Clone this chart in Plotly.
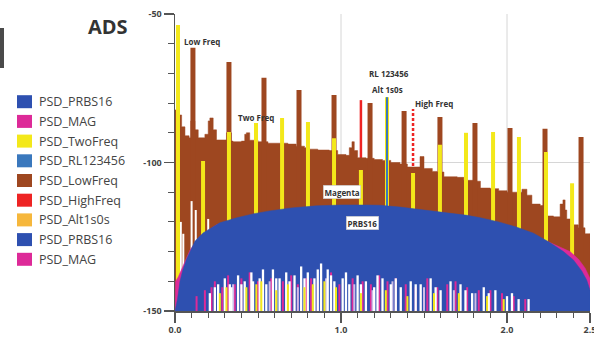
import plotly.graph_objects as go

# ---------------- data ----------------
x_range = [0.0, 2.5]
y_range = [-150, -50]
x_tick_vals = [0.0, 1.0, 2.0, 2.5]
x_tick_text = ["0.0", "1.0", "2.0", "2.5"]
y_tick_vals = [-50, -100, -150]
y_tick_text = ["-50", "-100", "-150"]

# PSD_LowFreq : noise floor (stepped) + tones
lowfreq_floor_x = [0.00, 0.02, 0.04, 0.06, 0.085, 0.095, 0.12, 0.14, 0.18, 0.20, 0.21, 0.23,
                   0.25, 0.30, 0.31, 0.34, 0.35, 0.40, 0.42, 0.43, 0.45, 0.50, 0.56, 0.62,
                   0.68, 0.73, 0.78, 0.81, 0.86, 0.93, 0.98, 1.03, 1.05, 1.066, 1.08, 1.10,
                   1.15, 1.20, 1.25, 1.30, 1.355, 1.40, 1.45, 1.476, 1.50, 1.55, 1.58, 1.62,
                   1.70, 1.74, 1.80, 1.84, 1.90, 1.95, 2.00, 2.06, 2.09, 2.12, 2.15, 2.20,
                   2.24, 2.28, 2.32, 2.337, 2.35, 2.36, 2.40, 2.43, 2.47, 2.50]
lowfreq_floor_y = [-82.3, -84.0, -88.0, -91.0, -91.7, -86.0, -89.0, -91.7, -90.5, -86.0, -85.0, -89.0,
                   -92.4, -92.4, -90.0, -92.8, -93.0, -92.8, -90.5, -90.0, -92.5, -93.0, -93.5, -93.5,
                   -93.8, -94.5, -95.0, -95.5, -95.8, -96.0, -97.3, -97.6, -95.0, -93.0, -96.0, -98.4,
                   -98.6, -99.0, -99.3, -100.0, -100.5, -101.5, -101.5, -98.0, -102.0, -103.0, -103.2, -104.8,
                   -105.0, -106.0, -106.3, -108.6, -108.8, -109.5, -110.0, -110.0, -109.0, -111.0, -114.0, -114.5,
                   -118.0, -118.3, -114.0, -112.6, -116.0, -119.0, -121.0, -122.0, -124.0, -127.0]
lowfreq_tone_x = [0.108, 0.325, 0.536, 0.747, 0.958, 1.175, 1.380, 1.596, 1.807, 2.018, 2.229, 2.446]
lowfreq_tone_y = [-61.4, -66.2, -71.5, -75.6, -77.3, -80.0, -82.7, -84.7, -86.7, -88.4, -88.6, -91.4]
# notches (nulls) of the LowFreq trace on the left
lowfreq_null_x = [0.035, 0.05, 0.10, 0.125, 0.17, 0.20]
lowfreq_null_y = [-120.0, -124.0, -113.0, -116.0, -118.0, -119.0]

# PSD_TwoFreq tones
twofreq_x = [0.018, 0.169, 0.325, 0.488, 0.645, 0.801, 0.958, 1.120, 1.277, 1.434,
             1.596, 1.753, 1.916, 2.072, 2.235, 2.392]
twofreq_y = [-53.7, -99.5, -89.7, -86.7, -85.0, -86.4, -91.8, -102.5, -78.0, -103.5,
             -94.0, -90.0, -89.7, -91.4, -96.5, -107.0]

# PSD_HighFreq tones
highfreq_x = [1.120, 1.434]
highfreq_y = [-79.0, -82.0]

# PSD_RL123456 / PSD_Alt1s0s line
rl_x = [1.277]
rl_y = [-78.0]

# PSD_PRBS16 envelope
prbs_x = [0.0, 0.015, 0.03, 0.048, 0.07, 0.09, 0.12, 0.169, 0.27, 0.373, 0.47, 0.57, 0.70,
          0.85, 1.0, 1.15, 1.235, 1.355, 1.5, 1.65, 1.76, 1.84, 1.95, 2.06, 2.16, 2.26,
          2.34, 2.40, 2.45, 2.48, 2.50]
prbs_y = [-150.0, -146.0, -140.0, -136.0, -132.5, -130.0, -126.5, -123.7, -120.3, -118.6, -117.3,
          -116.3, -115.3, -114.6, -114.3, -114.3, -114.4, -115.0, -116.0, -117.1, -117.8, -118.6,
          -120.0, -121.8, -123.8, -127.0, -130.0, -132.8, -136.5, -139.6, -143.0]

# PSD_MAG envelope (only shows at the edges of the PRBS16 dome)
mag_x = [0.0, 0.004, 0.02, 0.05, 0.09, 0.15, 0.25, 0.5, 1.0, 1.5, 2.0, 2.2, 2.3, 2.38, 2.43, 2.47, 2.50]
mag_y = [-150.0, -140.0, -138.5, -134.5, -129.5, -125.0, -121.0, -117.5, -115.5, -116.8,
         -121.5, -125.5, -128.0, -130.0, -132.5, -135.5, -139.0]

# spectral nulls showing through at the bottom of the PRBS16 trace
null_white_x = [0.21, 0.24, 0.26, 0.30, 0.33, 0.34, 0.38, 0.40, 0.42, 0.46, 0.47, 0.51, 0.53,
                0.55, 0.59, 0.61, 0.63, 0.67, 0.69, 0.72, 0.76, 0.78, 0.80, 0.84, 0.86, 0.88,
                0.92, 0.94, 0.96, 1.01, 1.03, 1.05, 1.10, 1.12, 1.15, 1.20, 1.22, 1.25, 1.30,
                1.33, 1.36, 1.42, 1.45, 1.48, 1.54, 1.57, 1.60, 1.66, 1.72, 1.75, 1.79, 1.86,
                1.89, 1.93, 2.00, 2.03, 2.07, 2.13]
null_white_y = [-144, -142, -141, -139, -141, -142, -138, -141, -140, -137, -140, -139, -136,
                -141, -136, -139, -139, -137, -140, -138, -135, -139, -137, -139, -136, -134,
                -136, -138, -140, -139, -137, -141, -138, -141, -140, -142, -138, -139, -141,
                -139, -142, -140, -141, -141, -139, -142, -143, -140, -141, -143, -144, -142,
                -144, -143, -145, -144, -146, -146]
null_mag_x = [0.13, 0.18, 0.22, 0.24, 0.285, 0.32, 0.36, 0.40, 0.45, 0.50, 0.53, 0.58, 0.65,
              0.70, 0.74, 0.79, 0.82, 0.86, 0.94, 0.99, 1.07, 1.13, 1.18, 1.23, 1.28, 1.33,
              1.39, 1.45, 1.52, 1.58, 1.64, 1.69, 1.76, 1.83, 1.90, 1.97, 2.04, 2.11]
null_mag_y = [-145, -143, -142, -140, -142, -138, -141, -139, -137, -140, -141, -139, -140,
              -138, -141, -139, -139, -140, -137, -141, -139, -140, -141, -138, -140, -139,
              -141, -142, -139, -142, -141, -140, -142, -143, -143, -144, -145, -146]
null_yel_x = [0.27, 0.31, 0.43, 0.49, 0.52, 0.61, 0.68, 0.78, 0.83, 0.90, 0.97, 1.12, 1.27,
              1.40, 1.56, 1.71, 1.88, 1.98]
null_yel_y = [-144, -142, -142, -141, -140, -143, -141, -142, -141, -140, -142, -144, -143,
              -145, -144, -144, -145, -146]
null_lav_x = [0.35, 0.57, 0.74, 0.91, 1.08, 1.19, 1.31, 1.50, 1.68, 1.81]
null_lav_y = [-141, -140, -142, -139, -141, -143, -140, -142, -143, -144]

# legend (as drawn at the left of the picture)
legend_names = ["PSD_PRBS16", "PSD_MAG", "PSD_TwoFreq", "PSD_RL123456", "PSD_LowFreq",
                "PSD_HighFreq", "PSD_Alt1s0s", "PSD_PRBS16", "PSD_MAG"]

# ---------------- style ----------------
C_PRBS = "#2e50b0"
C_MAG = "#dd2a98"
C_TWO = "#f3e81a"
C_RL = "#3a78bd"
C_LOW = "#9e4720"
C_HIGH = "#ee2424"
C_ALT = "#f6b73c"
legend_colors = [C_PRBS, C_MAG, C_TWO, C_RL, C_LOW, C_HIGH, C_ALT, C_PRBS, C_MAG]

W, H = 594, 337
ML, MR, MT, MB = 175, 4, 14, 26
PW, PH = W - ML - MR, H - MT - MB
FONT = "Open Sans"
BASE = y_range[0]


def px_x(px):
    return (px - ML) / PW


def px_y(py):
    return (H - MB - py) / PH


def spikes(xs, tops):
    X, Y = [], []
    for x, t in zip(xs, tops):
        X += [x, x, None]
        Y += [BASE, t, None]
    return X, Y


fig = go.Figure()


def add_spikes(xs, ys, color, width, name, dash=None):
    X, Y = spikes(xs, ys)
    fig.add_trace(go.Scatter(x=X, y=Y, mode="lines", name=name, showlegend=False,
                             line=dict(color=color, width=width, dash=dash),
                             hoverinfo="skip"))


def add_area(xs, ys, color, name, shape="linear"):
    fig.add_trace(go.Scatter(x=[xs[0]] + xs + [xs[-1]], y=[BASE] + ys + [BASE],
                             mode="lines", fill="toself", fillcolor=color, name=name,
                             line=dict(color=color, width=0.5, shape=shape),
                             showlegend=False, hoverinfo="skip"))


# back to front
add_spikes(highfreq_x[:1], highfreq_y[:1], C_HIGH, 2.5, "PSD_HighFreq")
add_spikes(highfreq_x[1:], highfreq_y[1:], C_HIGH, 2.5, "PSD_HighFreq", dash="3px,2px")
add_area(lowfreq_floor_x, lowfreq_floor_y, C_LOW, "PSD_LowFreq", shape="hv")
add_spikes(lowfreq_tone_x, lowfreq_tone_y, C_LOW, 5, "PSD_LowFreq")
add_spikes(lowfreq_null_x, lowfreq_null_y, "white", 2, "PSD_LowFreq")
add_spikes(twofreq_x, twofreq_y, C_TWO, 4, "PSD_TwoFreq")
add_spikes(rl_x, rl_y, C_RL, 2, "PSD_RL123456")
add_area(mag_x, mag_y, C_MAG, "PSD_MAG")
add_area(prbs_x, prbs_y, C_PRBS, "PSD_PRBS16")
add_spikes(null_mag_x, null_mag_y, C_MAG, 2, "PSD_MAG")
add_spikes(null_lav_x, null_lav_y, "#cdbde8", 2, "nulls")
add_spikes(null_white_x, null_white_y, "white", 2.3, "nulls")
add_spikes(null_yel_x, null_yel_y, C_TWO, 2, "PSD_TwoFreq")

ann_font = dict(family=FONT, size=8, color="#333333", weight="bold")
labels = [
    ("Low Freq", 0.163, -59.4, False),
    ("Two Freq", 0.488, -85.0, False),
    ("RL 123456", 1.289, -69.9, False),
    ("Alt 1s0s", 1.283, -75.3, False),
    ("High Freq", 1.56, -80.0, False),
    ("Magenta", 1.006, -110.0, True),
    ("PRBS16", 1.13, -120.4, True),
]
annotations = []
for text, ax, ay, boxed in labels:
    a = dict(text=text, x=ax, y=ay, xref="x", yref="y", showarrow=False, font=ann_font,
             xanchor="center", yanchor="middle")
    if boxed:
        a.update(bgcolor="white", bordercolor="#bbbbbb", borderwidth=0.5, borderpad=1)
    annotations.append(a)

annotations.append(dict(text="<b>ADS</b>", x=px_x(108), y=px_y(26), xref="paper", yref="paper",
                        xanchor="center", yanchor="middle",
                        showarrow=False, font=dict(family=FONT, size=20, color="#333333")))

shapes = []
shapes.append(dict(type="rect", xref="paper", yref="paper", x0=px_x(0), x1=px_x(4),
                   y0=px_y(68), y1=px_y(28), fillcolor="#4a4a4a", line=dict(width=0)))
row0, step = 101.7, 19.7
for i, (nm, col) in enumerate(zip(legend_names, legend_colors)):
    cy = row0 + i * step
    shapes.append(dict(type="rect", xref="paper", yref="paper", x0=px_x(17), x1=px_x(32),
                       y0=px_y(cy + 6.5), y1=px_y(cy - 6.5), fillcolor=col, line=dict(width=0)))
    annotations.append(dict(text=nm, x=px_x(37), y=px_y(cy), xref="paper", yref="paper",
                            xanchor="left", yanchor="middle", showarrow=False,
                            font=dict(family=FONT, size=12.5, color="#444444")))

# faint grid lines (behind traces)
grid_col = "#d6d6d6"
for gx in x_tick_vals[1:3]:
    shapes.append(dict(type="line", xref="x", yref="paper", x0=gx, x1=gx, y0=0, y1=1,
                       layer="below", line=dict(color=grid_col, width=1)))
shapes.append(dict(type="line", xref="paper", yref="y", x0=0, x1=1, y0=y_tick_vals[1],
                   y1=y_tick_vals[1], layer="below", line=dict(color=grid_col, width=1)))

tick_font = dict(family=FONT, size=9, color="#444444", weight="bold")
axis_col = "#555555"
fig.update_layout(
    width=W, height=H,
    margin=dict(l=ML, r=MR, t=MT, b=MB, pad=0),
    paper_bgcolor="white", plot_bgcolor="white",
    showlegend=False,
    annotations=annotations, shapes=shapes,
    xaxis=dict(range=x_range, tickmode="array", tickvals=x_tick_vals, ticktext=x_tick_text,
               ticks="outside", ticklen=10, tickwidth=1.2, tickcolor=axis_col,
               showline=True, linecolor=axis_col, linewidth=1.5, showgrid=False,
               zeroline=False, tickfont=tick_font, automargin=False,
               ticklabeloverflow="allow",
               minor=dict(tickmode="array", tickvals=[i / 10 for i in range(26)],
                          ticks="outside", ticklen=5, tickcolor=axis_col, tickwidth=1,
                          showgrid=False)),
    yaxis=dict(range=y_range, tickmode="array", tickvals=y_tick_vals, ticktext=y_tick_text,
               ticks="outside", ticklen=10, tickwidth=1.2, tickcolor=axis_col,
               showline=True, linecolor=axis_col, linewidth=1.5, showgrid=False,
               zeroline=False, tickfont=tick_font, automargin=False,
               ticklabeloverflow="allow",
               minor=dict(tickmode="array", tickvals=list(range(-140, -50, 10)),
                          ticks="outside", ticklen=6, tickcolor=axis_col, tickwidth=1,
                          showgrid=False)),
)

fig.write_html("out.html", config={"displayModeBar": False, "staticPlot": True},
               post_script="document.body.style.margin='0';document.body.style.overflow='hidden';")
